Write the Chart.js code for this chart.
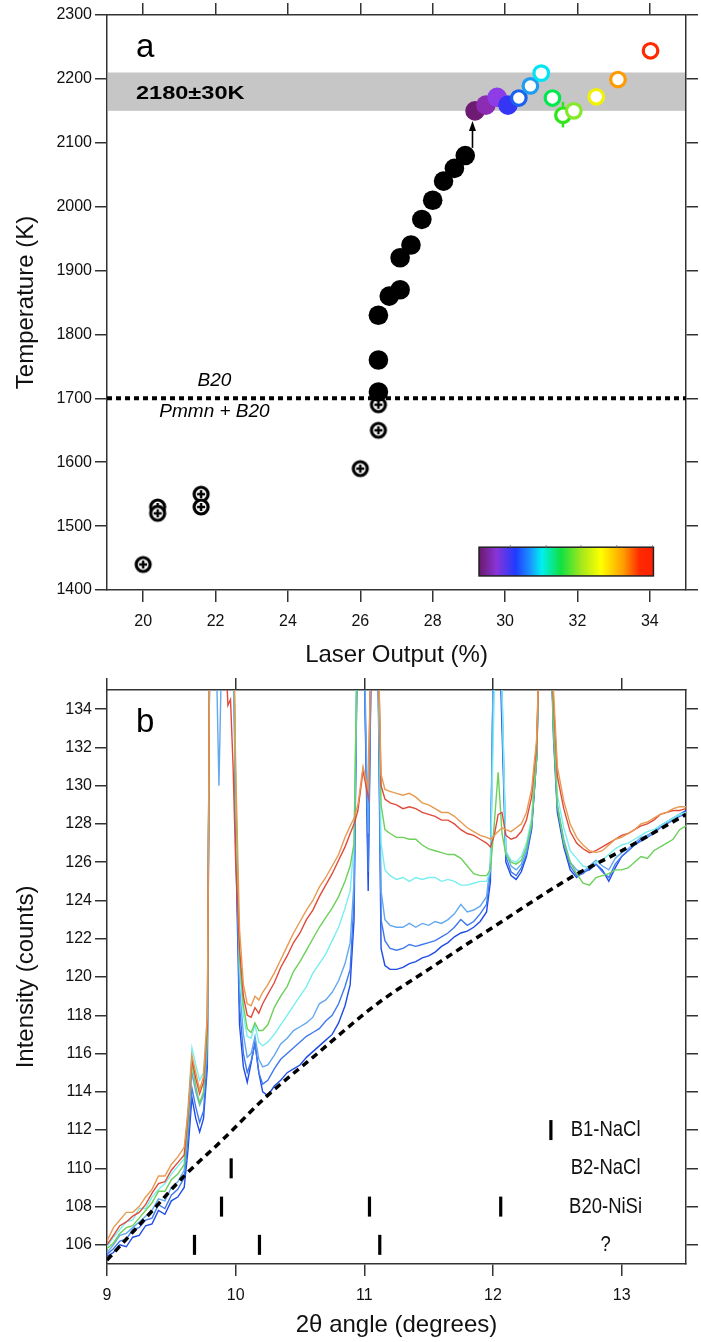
<!DOCTYPE html>
<html><head><meta charset="utf-8">
<script src="https://cdn.jsdelivr.net/npm/chart.js@4.4.1/dist/chart.umd.min.js"></script>
<style>
html,body{margin:0;padding:0;background:#fff;width:701px;height:1342px;overflow:hidden}
#wa{position:absolute;left:0;top:0;width:701px;height:672px}
#wb{position:absolute;left:0;top:672px;width:701px;height:670px}
canvas{display:block}
</style></head><body>
<div id="wa"><canvas id="ca" width="701" height="672" style="width:701px;height:672px"></canvas></div>
<div id="wb"><canvas id="cb" width="701" height="670" style="width:701px;height:670px"></canvas></div>
<script>
// ---------- Panel a data ----------
const A_X_TICKS = [20, 22, 24, 26, 28, 30, 32, 34];
const A_Y_TICKS = [1400, 1500, 1600, 1700, 1800, 1900, 2000, 2100, 2200, 2300];
const CROSS_X = [20.0, 20.4, 20.4, 21.6, 21.6, 26.0, 26.5, 26.5];
const CROSS_T = [1440, 1530, 1520, 1550, 1530, 1590, 1650, 1690];
const BLACK_X = [26.5, 26.5, 26.5, 26.8, 27.1, 27.1, 27.4, 27.7, 28.0, 28.3, 28.6, 28.9];
const BLACK_T = [1710, 1760, 1830, 1860, 1870, 1920, 1940, 1980, 2010, 2040, 2060, 2080];
const FILLED_X = [29.17, 29.47, 29.78, 30.08];
const FILLED_T = [2150, 2159, 2171, 2159];
const FILLED_C = ['#6e1b74', '#8b2cb3', '#8e3ce6', '#3535f5'];
const OPEN_X = [30.38, 30.70, 31.0, 31.31, 31.6, 31.9, 32.52, 33.12, 34.02];
const OPEN_T = [2170, 2189, 2209, 2170, 2143, 2150, 2172, 2199, 2244];
const OPEN_C = ['#1a62ee', '#1e9cf0', '#00e4f4', '#00e84e', '#2ee61a', '#86e82a', '#f2f200', '#ff9a00', '#ff2a00'];
const BAND = [2150, 2210];
const BAND_LABEL = '2180±30K';
const PHASE_T = 1700;
const ERR_X = 31.6, ERR_LO = 2124, ERR_HI = 2164;
const ARROW_X = 29.1, ARROW_FROM = 2092, ARROW_TO = 2134;

// ---------- Panel b data ----------
const B_X_TICKS = [9, 10, 11, 12, 13];
const B_Y_TICKS = [106, 108, 110, 112, 114, 116, 118, 120, 122, 124, 126, 128, 130, 132, 134];
const X_B = [
9.00, 9.05, 9.10, 9.15, 9.20, 9.25, 9.30, 9.35, 9.40, 9.45, 9.50, 9.55, 9.60, 9.63, 9.66, 9.69, 9.72, 9.75, 9.78, 9.80,
9.84, 9.87, 9.90, 9.94, 9.96, 9.98, 10.00, 10.03, 10.06, 10.09, 10.12, 10.15, 10.18, 10.21, 10.25, 10.30, 10.35, 10.40, 10.45, 10.50,
10.55, 10.60, 10.65, 10.70, 10.75, 10.80, 10.85, 10.89, 10.92, 10.95, 10.99, 11.03, 11.06, 11.10, 11.13, 11.16, 11.20, 11.25, 11.30, 11.35,
11.40, 11.45, 11.50, 11.55, 11.60, 11.65, 11.70, 11.75, 11.80, 11.85, 11.90, 11.95, 11.98, 12.01, 12.04, 12.07, 12.10, 12.14, 12.18, 12.22,
12.26, 12.30, 12.34, 12.37, 12.40, 12.44, 12.47, 12.50, 12.55, 12.60, 12.65, 12.70, 12.75, 12.80, 12.85, 12.90, 12.95, 13.00, 13.05, 13.10,
13.15, 13.20, 13.25, 13.30, 13.35, 13.40, 13.45, 13.50];
const ORANGE = [
106.2, 106.9, 107.3, 107.7, 107.7, 108.0, 108.5, 108.9, 109.6, 109.6, 110.2, 110.6, 111.1, 113.0, 115.9, 115.0, 114.1, 114.8, 118.0, 140,
140, 140, 140, 140, 140, 140, 131.0, 122.5, 119.6, 118.6, 118.5, 119.0, 118.8, 119.2, 119.6, 120.2, 120.9, 121.6, 122.3, 122.9,
123.5, 124.0, 124.7, 125.2, 125.8, 126.4, 127.3, 127.9, 128.3, 129.0, 131.0, 129.8, 140, 140, 130.6, 129.8, 129.7, 129.6, 129.5, 129.6,
129.4, 129.1, 129.0, 128.8, 128.6, 128.6, 128.4, 128.1, 127.8, 127.6, 127.4, 127.3, 127.2, 127.4, 127.6, 127.8, 127.7, 127.6, 127.8, 128.0,
128.6, 129.8, 132.5, 140, 140, 140, 135.0, 131.0, 129.2, 128.0, 127.3, 126.9, 126.6, 126.5, 126.6, 126.9, 127.2, 127.3, 127.5, 127.7,
128.0, 128.1, 128.3, 128.5, 128.6, 128.8, 128.9, 128.9];
const RED = [
106.0, 106.5, 107.0, 107.2, 107.5, 107.7, 108.1, 108.7, 109.2, 109.3, 109.9, 110.3, 110.7, 112.8, 115.7, 114.7, 113.9, 114.5, 117.5, 140,
140, 140, 140, 134.2, 134.5, 131.0, 126.0, 121.5, 119.0, 118.0, 117.9, 118.4, 118.1, 118.6, 119.1, 119.7, 120.5, 121.1, 121.8, 122.3,
123.0, 123.5, 124.2, 124.8, 125.4, 126.1, 126.8, 127.5, 128.0, 128.7, 130.8, 129.4, 140, 140, 130.0, 129.3, 129.1, 129.0, 128.8, 128.9,
128.8, 128.6, 128.5, 128.4, 128.2, 128.2, 128.0, 127.7, 127.5, 127.4, 127.2, 127.0, 126.8, 127.4, 128.5, 128.6, 127.4, 127.2, 127.3, 127.6,
128.2, 129.4, 132.2, 140, 140, 140, 134.5, 130.5, 128.8, 127.6, 127.0, 126.7, 126.5, 126.6, 126.8, 127.0, 127.2, 127.4, 127.5, 127.7,
127.9, 128.0, 128.2, 128.5, 128.6, 128.7, 128.7, 128.8];
const GREEN = [
105.8, 106.1, 106.6, 106.9, 107.0, 107.4, 107.8, 108.2, 108.8, 108.8, 109.4, 109.7, 110.2, 112.5, 115.5, 114.3, 113.4, 114.0, 117.0, 140,
140, 140, 140, 140, 140, 140, 130.0, 121.0, 118.5, 117.3, 117.1, 117.6, 117.2, 117.2, 117.5, 118.4, 119.0, 119.5, 120.3, 120.8,
121.4, 122.0, 122.6, 123.1, 123.6, 124.2, 125.0, 125.8, 127.0, 140, 140, 140, 140, 140, 129.0, 127.7, 127.5, 127.3, 127.3, 127.2,
127.2, 126.9, 126.7, 126.6, 126.5, 126.4, 126.4, 126.2, 125.8, 125.4, 125.3, 125.3, 125.6, 128.0, 130.7, 127.5, 126.4, 126.0, 125.9, 126.1,
126.8, 128.0, 131.5, 140, 140, 140, 133.0, 129.0, 127.0, 126.0, 125.4, 124.9, 124.8, 125.2, 125.3, 125.4, 125.6, 125.6, 125.7, 126.0,
126.3, 126.2, 126.6, 126.8, 127.0, 127.2, 127.7, 127.9];
const CYAN = [
105.9, 106.4, 106.8, 107.2, 107.3, 107.9, 107.9, 108.5, 108.9, 109.2, 109.7, 110.1, 110.5, 113.2, 116.3, 115.4, 114.6, 115.0, 118.0, 140,
140, 140, 140, 140, 140, 140, 130.0, 120.5, 118.0, 116.9, 116.8, 117.5, 116.6, 116.4, 116.6, 117.0, 117.5, 118.0, 118.5, 119.0,
119.5, 120.2, 120.7, 121.2, 121.9, 122.6, 123.6, 124.5, 127.0, 140, 140, 140, 140, 140, 127.0, 125.6, 125.3, 125.1, 125.2, 125.0,
125.2, 125.1, 125.2, 125.2, 125.0, 125.1, 125.0, 124.8, 124.8, 124.9, 125.0, 125.0, 125.6, 135.0, 140, 135.0, 126.6, 126.1, 126.0, 126.3,
127.0, 128.3, 132.0, 140, 140, 140, 133.5, 129.5, 127.8, 126.6, 126.2, 125.8, 125.7, 126.0, 126.1, 126.4, 126.7, 126.9, 127.0, 127.2,
127.4, 127.6, 127.7, 127.9, 128.1, 128.3, 128.5, 128.6];
const LIGHTBLUE = [
105.6, 106.0, 106.5, 106.6, 106.9, 107.2, 107.5, 107.8, 108.4, 108.3, 109.0, 109.3, 109.9, 112.2, 115.0, 114.0, 113.3, 113.8, 116.5, 140,
140, 130.0, 140, 140, 140, 140, 129.0, 119.5, 117.0, 115.8, 116.0, 116.9, 115.7, 115.3, 115.4, 115.9, 116.5, 116.8, 117.2, 117.4,
117.6, 117.9, 118.6, 118.8, 119.2, 119.8, 120.7, 121.8, 125.0, 140, 140, 127.5, 140, 140, 124.5, 123.0, 122.7, 122.6, 122.6, 122.8,
122.6, 122.8, 122.7, 122.9, 122.8, 123.0, 123.3, 123.8, 123.4, 123.5, 123.7, 124.2, 126.0, 140, 140, 135.0, 126.6, 125.8, 125.6, 125.9,
126.6, 128.0, 132.0, 140, 140, 140, 133.0, 129.0, 127.2, 126.0, 125.6, 125.5, 125.8, 126.1, 125.8, 125.6, 126.2, 126.5, 126.7, 127.0,
127.3, 127.4, 127.6, 127.9, 128.1, 128.3, 128.5, 128.6];
const BLUE = [
105.5, 105.8, 106.2, 106.3, 106.8, 106.9, 107.3, 107.4, 108.1, 107.9, 108.6, 108.9, 109.5, 111.6, 114.2, 113.2, 112.4, 113.0, 115.8, 140,
140, 140, 140, 140, 140, 140, 128.0, 118.5, 116.0, 115.0, 115.6, 116.5, 115.0, 114.4, 114.6, 115.2, 115.7, 116.0, 116.3, 116.6,
116.9, 117.1, 117.3, 117.7, 118.0, 118.6, 119.5, 120.4, 124.0, 140, 140, 125.5, 140, 140, 123.0, 121.9, 121.5, 121.4, 121.5, 121.7,
121.6, 121.7, 121.8, 121.9, 122.1, 122.3, 122.6, 123.0, 122.7, 122.9, 123.3, 123.8, 125.5, 140, 140, 134.0, 126.3, 125.5, 125.3, 125.7,
126.4, 127.8, 131.5, 140, 140, 140, 133.0, 128.8, 127.0, 125.8, 125.3, 125.4, 125.7, 125.9, 125.5, 125.2, 125.9, 126.3, 126.6, 126.9,
127.1, 127.3, 127.5, 127.8, 128.0, 128.2, 128.4, 128.5];
const DARKBLUE = [
105.4, 105.6, 106.0, 105.9, 106.4, 106.5, 107.0, 107.1, 107.8, 107.6, 108.3, 108.5, 109.0, 111.0, 113.7, 112.6, 111.9, 112.6, 115.3, 140,
140, 140, 140, 140, 140, 140, 127.0, 117.5, 115.3, 114.5, 115.5, 116.6, 115.0, 114.0, 113.8, 114.3, 114.6, 115.0, 115.2, 115.4,
115.8, 116.1, 116.4, 116.7, 117.0, 117.6, 118.5, 119.6, 123.0, 140, 140, 124.5, 140, 140, 121.5, 120.6, 120.4, 120.4, 120.5, 120.7,
120.8, 121.0, 121.1, 121.3, 121.6, 121.8, 122.1, 122.3, 122.4, 122.6, 122.9, 123.4, 125.0, 140, 140, 133.0, 126.0, 125.3, 125.1, 125.5,
126.3, 127.7, 131.5, 140, 140, 140, 132.5, 128.6, 126.8, 125.6, 125.2, 125.5, 125.6, 125.9, 125.6, 125.0, 125.7, 126.3, 126.6, 126.9,
127.2, 127.4, 127.6, 127.9, 128.1, 128.3, 128.5, 128.7];
const SERIES_B = [ORANGE, RED, GREEN, CYAN, LIGHTBLUE, BLUE, DARKBLUE];
const SERIES_B_COLORS = ['#e89a50', '#e04a3a', '#6cd05a', '#78eef0', '#62a8ee', '#3f78ee', '#1f4ce8'];
const BASE_X = [9.0, 9.3, 9.6, 9.9, 10.23, 10.6, 11.1, 11.5, 12.0, 12.63, 13.0, 13.5];
const BASE_Y = [105.2, 107.4, 109.6, 111.5, 113.7, 115.8, 118.6, 120.4, 122.6, 125.3, 126.6, 128.5];
const PHASE_NAMES = ['B1-NaCl', 'B2-NaCl', 'B20-NiSi', '?'];
const PHASE_Y = [112, 110, 108, 106];
const PHASE_X = [[12.45], [9.965], [9.89, 11.04, 12.06], [9.68, 10.185, 11.12]];

// ---------- common styling ----------
const FONT = "'Liberation Sans', Arial, Helvetica, sans-serif";
const AXC = '#333';
const TXT = '#111';
const grid = () => ({display: true, drawOnChartArea: false, drawTicks: true, tickLength: 12, color: AXC, lineWidth: 1.5});
const border = () => ({display: true, color: AXC, width: 1.5});
const setTicks = arr => (s => { s.ticks = arr.map(v => ({value: v})); });

function makeScales(xmin, xmax, xt, ymin, ymax, yt, xTitle, yTitle, topH, botH) {
  return {
    x: {type: 'linear', position: 'bottom', min: xmin, max: xmax, afterBuildTicks: setTicks(xt),
        afterFit: s => { s.height = botH; },
        ticks: {font: {family: FONT, size: 16}, color: TXT, padding: 10, callback: v => String(v)},
        grid: grid(), border: border(),
        title: {display: true, text: xTitle, color: TXT, font: {family: FONT, size: 24}, padding: {top: 0, bottom: 2}}},
    x2: {type: 'linear', position: 'top', min: xmin, max: xmax, afterBuildTicks: setTicks(xt),
        afterFit: s => { s.height = topH; }, ticks: {display: false}, grid: grid(), border: border()},
    y: {type: 'linear', position: 'left', min: ymin, max: ymax, afterBuildTicks: setTicks(yt),
        afterFit: s => { s.width = 107; },
        ticks: {font: {family: FONT, size: 16}, color: TXT, padding: 3, callback: v => String(v)},
        grid: grid(), border: border(),
        title: {display: true, text: yTitle, color: TXT, font: {family: FONT, size: 24}, padding: {top: 12, bottom: 0}}},
    y2: {type: 'linear', position: 'right', min: ymin, max: ymax, afterBuildTicks: setTicks(yt),
        afterFit: s => { s.width = 15; }, ticks: {display: false}, grid: grid(), border: border()}
  };
}

// draws text with a horizontal scale factor (to mimic wide / narrow lettering)
function stretchText(ctx, txt, px, py, sx, align) {
  ctx.save();
  ctx.translate(px, py);
  ctx.scale(sx, 1);
  ctx.textAlign = align;
  ctx.fillText(txt, 0, 0);
  ctx.restore();
}

function makeCross() {
  const c = document.createElement('canvas');
  c.width = 20; c.height = 20;
  const g = c.getContext('2d');
  g.beginPath(); g.arc(10, 10, 7, 0, Math.PI * 2);
  g.fillStyle = '#fff'; g.fill();
  g.lineWidth = 3.2; g.strokeStyle = '#000'; g.stroke();
  g.beginPath(); g.moveTo(6, 10); g.lineTo(14, 10); g.moveTo(10, 6); g.lineTo(10, 14);
  g.lineWidth = 2.5; g.stroke();
  return c;
}
const pts = (xs, ys) => xs.map((x, i) => ({x, y: ys[i]}));

// ---------- Panel a ----------
const decorA = {
  id: 'decorA',
  beforeDatasetsDraw(chart) {
    const {ctx, chartArea: a, scales: {x, y}} = chart;
    ctx.save();
    const yt = y.getPixelForValue(BAND[1]), yb = y.getPixelForValue(BAND[0]);
    ctx.fillStyle = '#c6c6c6';
    ctx.fillRect(a.left + 1, yt, a.right - a.left - 2, yb - yt);
    ctx.fillStyle = '#000';
    ctx.font = 'bold 19px ' + FONT;
    ctx.textBaseline = 'middle';
    stretchText(ctx, BAND_LABEL, x.getPixelForValue(19.8), y.getPixelForValue(2177), 1.24, 'left');
    // error bar on one open point
    ctx.strokeStyle = OPEN_C[4]; ctx.lineWidth = 2.5;
    ctx.beginPath();
    ctx.moveTo(x.getPixelForValue(ERR_X), y.getPixelForValue(ERR_LO));
    ctx.lineTo(x.getPixelForValue(ERR_X), y.getPixelForValue(ERR_HI));
    ctx.stroke();
    ctx.restore();
  },
  afterDatasetsDraw(chart) {
    const {ctx, chartArea: a, scales: {x, y}} = chart;
    ctx.save();
    ctx.fillStyle = '#000';
    ctx.font = '33px ' + FONT; ctx.textAlign = 'left'; ctx.textBaseline = 'alphabetic';
    ctx.fillText('a', a.left + 29, a.top + 42);
    ctx.font = 'italic 19px ' + FONT; ctx.textAlign = 'center'; ctx.textBaseline = 'middle';
    ctx.fillText('B20', x.getPixelForValue(21.97), y.getPixelForValue(1728));
    ctx.fillText('Pmmn + B20', x.getPixelForValue(21.97), y.getPixelForValue(1679));
    // arrow
    const ax = x.getPixelForValue(ARROW_X);
    const y0 = y.getPixelForValue(ARROW_FROM), y1 = y.getPixelForValue(ARROW_TO);
    ctx.strokeStyle = '#000'; ctx.lineWidth = 1.6;
    ctx.beginPath(); ctx.moveTo(ax, y0); ctx.lineTo(ax, y1 + 8); ctx.stroke();
    ctx.beginPath(); ctx.moveTo(ax, y1); ctx.lineTo(ax - 3.5, y1 + 10); ctx.lineTo(ax + 3.5, y1 + 10); ctx.closePath();
    ctx.fillStyle = '#000'; ctx.fill();
    // colour bar
    const cx0 = x.getPixelForValue(29.28), cx1 = x.getPixelForValue(34.1);
    const cy0 = y.getPixelForValue(1467), cy1 = y.getPixelForValue(1422);
    const gr = ctx.createLinearGradient(cx0, 0, cx1, 0);
    [[0, '#6a1a6a'], [0.1, '#8a34d8'], [0.21, '#1e3cff'], [0.29, '#1a90ff'], [0.36, '#00f0f0'],
     [0.47, '#10e040'], [0.59, '#a8e81a'], [0.70, '#ffff00'], [0.83, '#ff9a00'], [0.92, '#ff2a00'], [1, '#ff2000']]
      .forEach(([o, c]) => gr.addColorStop(o, c));
    ctx.fillStyle = gr;
    ctx.fillRect(cx0, cy0, cx1 - cx0, cy1 - cy0);
    ctx.strokeStyle = '#222'; ctx.lineWidth = 1.5;
    ctx.strokeRect(cx0, cy0, cx1 - cx0, cy1 - cy0);
    ctx.lineWidth = 1; ctx.strokeStyle = '#777';
    [0.18, 0.385, 0.585, 0.79, 0.995].forEach(f => {
      const px = cx0 + f * (cx1 - cx0);
      ctx.beginPath(); ctx.moveTo(px, cy0 - 2); ctx.lineTo(px, cy0); ctx.stroke();
    });
    ctx.restore();
  }
};

const cross = makeCross();
new Chart(document.getElementById('ca'), {
  type: 'scatter',
  data: {datasets: [
    {type: 'line', label: 'phase boundary', data: [{x: 19, y: PHASE_T}, {x: 35, y: PHASE_T}],
     borderColor: '#000', borderWidth: 4, borderDash: [5, 4], pointRadius: 0, order: 10},
    {label: 'Pmmn + B20', data: pts(CROSS_X, CROSS_T), pointStyle: cross, pointRadius: 8, order: 5},
    {label: 'B20', data: pts(BLACK_X, BLACK_T), pointBackgroundColor: '#000', pointBorderColor: '#000',
     pointBorderWidth: 0, pointRadius: 9.8, order: 4},
    {label: 'filled', data: pts(FILLED_X, FILLED_T), pointBackgroundColor: FILLED_C, pointBorderColor: FILLED_C,
     pointBorderWidth: 0, pointRadius: 9.8, order: 3},
    {label: 'open', data: pts(OPEN_X, OPEN_T), pointBackgroundColor: '#fff', pointBorderColor: OPEN_C,
     pointBorderWidth: 3.2, pointRadius: 7.3, order: 2}
  ]},
  options: {
    responsive: false, maintainAspectRatio: false, animation: false, events: [],
    layout: {padding: 0},
    plugins: {legend: {display: false}, tooltip: {enabled: false}},
    scales: makeScales(19, 35, A_X_TICKS, 1400, 2300, A_Y_TICKS, 'Laser Output (%)', 'Temperature (K)', 15, 82)
  },
  plugins: [decorA]
});

// ---------- Panel b ----------
const decorB = {
  id: 'decorB',
  afterDatasetsDraw(chart) {
    const {ctx, chartArea: a, scales: {x, y}} = chart;
    ctx.save();
    ctx.fillStyle = '#000';
    ctx.font = '33px ' + FONT; ctx.textAlign = 'left'; ctx.textBaseline = 'alphabetic';
    ctx.fillText('b', a.left + 29, a.top + 42);
    ctx.font = '22px ' + FONT; ctx.textBaseline = 'middle';
    ctx.fillStyle = '#111';
    PHASE_NAMES.forEach((n, i) =>
      stretchText(ctx, n, x.getPixelForValue(12.875), y.getPixelForValue(PHASE_Y[i]), 0.84, 'center'));
    ctx.restore();
  }
};

const dsB = SERIES_B.map((s, i) => ({
  type: 'line', label: 'spectrum ' + (i + 1), data: pts(X_B, s),
  borderColor: SERIES_B_COLORS[i], borderWidth: 1.4, pointRadius: 0, tension: 0, fill: false, order: 3 + i
}));
dsB.push({type: 'line', label: 'background', data: pts(BASE_X, BASE_Y), borderColor: '#000', borderWidth: 3.5,
  borderDash: [7, 5], pointRadius: 0, cubicInterpolationMode: 'monotone', fill: false, order: 1});
PHASE_NAMES.forEach((n, i) => {
  dsB.push({type: 'line', label: n, data: PHASE_X[i].map(v => ({x: v, y: PHASE_Y[i]})), showLine: false,
    pointStyle: 'line', rotation: 90, pointRadius: 10, pointBorderWidth: 3.2, pointBorderColor: '#000',
    pointBackgroundColor: '#000', order: 0});
});

new Chart(document.getElementById('cb'), {
  type: 'line',
  data: {datasets: dsB},
  options: {
    responsive: false, maintainAspectRatio: false, animation: false, events: [],
    layout: {padding: 0},
    plugins: {legend: {display: false}, tooltip: {enabled: false}},
    scales: makeScales(9, 13.5, B_X_TICKS, 105, 135, B_Y_TICKS, '2θ angle (degrees)', 'Intensity (counts)', 18, 78)
  },
  plugins: [decorB]
});
</script>
</body></html>
